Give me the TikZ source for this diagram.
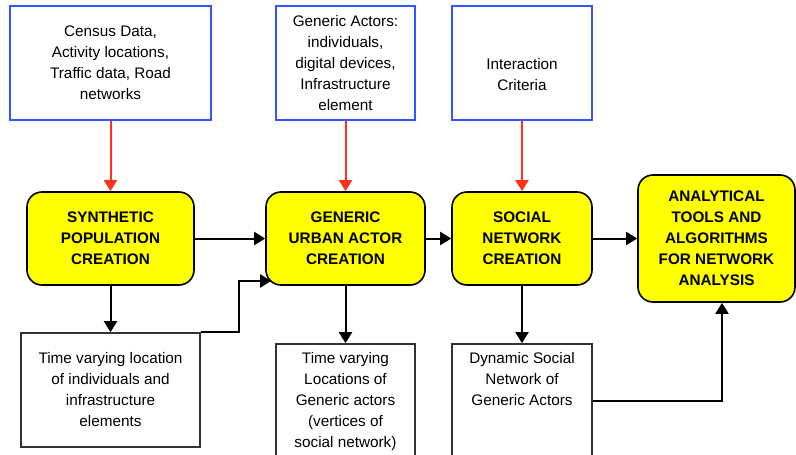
\documentclass[tikz,border=0pt]{standalone}
\usepackage{fontspec}
\setmainfont{Liberation Sans}
\usetikzlibrary{arrows.meta,positioning}
\definecolor{inblue}{RGB}{51,85,255}
\definecolor{feedred}{RGB}{255,51,25}
\definecolor{procyellow}{RGB}{255,255,0}
\newcommand{\boxfont}{\fontsize{15.3}{21}\selectfont}
\tikzset{input box/.style={rectangle,draw=inblue,line width=1.6pt,fill=white,inner sep=0pt,align=center},
         process box/.style={rectangle,rounded corners=15pt,draw=black,line width=1.6pt,fill=procyellow,inner sep=0pt,align=center,font=\boxfont\bfseries},
         output box/.style={rectangle,draw=black!80,line width=1.6pt,fill=white,inner sep=0pt,align=center},
         box text/.style={rectangle,draw=none,fill=none,inner sep=0pt,align=center},
         feed edge/.style={->,draw=feedred,line width=2pt},
         flow edge/.style={->,draw=black,line width=2pt},
}

\begin{document}
\begin{tikzpicture}[x=1pt,y=-1pt,
>={Triangle[length=11pt,width=13pt]},
font=\boxfont]

\useasboundingbox (0,0) rectangle (796,455);
% \draw[help lines] (0,0) grid[step=50] (796,455);

% inputs
\node[input box,minimum width=201,minimum height=114] (census) at (110.5,63)
    {Census Data,\\Activity locations,\\Traffic data, Road\\networks};
\node[input box,minimum width=139,minimum height=114] (actors) at (345.5,63)
    {Generic Actors:\\individuals,\\digital devices,\\Infrastructure\\element};
\node[input box,minimum width=140,minimum height=114] (criteria) at (522,63) {};
\node[box text] (criteria text) at (522,75) {Interaction\\Criteria};

% processes
\node[process box,minimum width=167,minimum height=93] (synpop) at (110.5,238.5)
    {SYNTHETIC\\POPULATION\\CREATION};
\node[process box,minimum width=159,minimum height=93] (urban) at (345.5,238.5)
    {GENERIC\\URBAN ACTOR\\CREATION};
\node[process box,minimum width=140,minimum height=93] (social) at (522,238.5)
    {SOCIAL\\NETWORK\\CREATION};
\node[process box,minimum width=157,minimum height=127] (analysis) at (716.5,238.5)
    {ANALYTICAL\\TOOLS AND\\ALGORITHMS\\FOR NETWORK\\ANALYSIS};

% outputs
\node[output box,minimum width=179,minimum height=114] (indloc) at (110.5,390)
    {Time varying location\\of individuals and\\infrastructure\\elements};
\node[output box,minimum width=139,minimum height=126] (actloc) at (345.5,407) {};
\node[box text,anchor=north] (actloc text) at (345.5,352)
    {Time varying\\Locations of\\Generic actors\\(vertices of\\social network)};
\node[output box,minimum width=140,minimum height=126] (dynnet) at (522,407) {};
\node[box text,anchor=north] (dynnet text) at (522,352)
    {Dynamic Social\\Network of\\Generic Actors};

% red feeds
\draw[feed edge] (census) -- (synpop);
\draw[feed edge] (actors) -- (urban);
\draw[feed edge] (criteria) -- (social);

% main flow
\draw[flow edge] (synpop) -- (urban);
\draw[flow edge] (urban) -- (social);
\draw[flow edge] (social) -- (analysis);
\draw[flow edge] (synpop) -- (indloc);
\draw[flow edge] (urban) -- (actloc);
\draw[flow edge] (social) -- (dynnet);
\draw[flow edge] (indloc.north east) -- ++(38,0) |- ([xshift=6pt,yshift=-42.5pt]urban.west);
\draw[flow edge] ([yshift=6pt]dynnet.east) -| ([xshift=5.5pt]analysis.south);
\end{tikzpicture}
\end{document}
